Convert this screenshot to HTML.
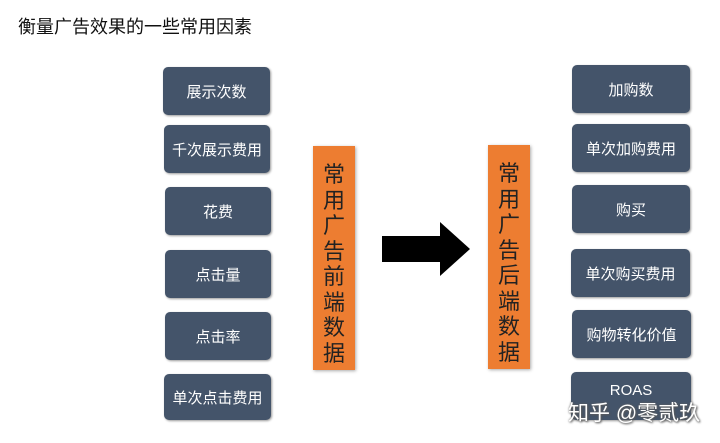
<html><head><style>
body{margin:0;width:720px;height:443px;background:#fff;position:relative;font-family:"Liberation Sans","Noto Sans CJK SC",sans-serif;overflow:hidden}
.b{position:absolute;background:#44546a;color:#fff;border-radius:5px;display:flex;align-items:center;justify-content:center;font-size:15px;box-shadow:1px 1px 2px #999}
.o{position:absolute;background:#ed7d31;color:#222;font-size:22px;line-height:25.5px;text-align:center;padding-top:16px;box-sizing:border-box;box-shadow:1px 1px 3px #aaa;overflow:hidden}
</style></head><body>
<div style="position:absolute;left:18px;top:13px;font-size:18px;color:#111">衡量广告效果的一些常用因素</div>
<div class="b" style="left:163px;top:67px;width:107px;height:48px">展示次数</div>
<div class="b" style="left:164px;top:125px;width:106px;height:48px">千次展示费用</div>
<div class="b" style="left:165px;top:187px;width:106px;height:48px">花费</div>
<div class="b" style="left:165px;top:250px;width:106px;height:48px">点击量</div>
<div class="b" style="left:165px;top:312px;width:106px;height:48px">点击率</div>
<div class="b" style="left:164px;top:374px;width:107px;height:46px">单次点击费用</div>
<div class="o" style="left:313px;top:146px;width:42px;height:224px">常<br>用<br>广<br>告<br>前<br>端<br>数<br>据</div>
<svg style="position:absolute;left:380px;top:220px" width="95" height="60"><polygon points="2,16 60,16 60,2 90,29 60,56 60,42 2,42" fill="#000"/></svg>
<div class="o" style="left:488px;top:145px;width:42px;height:224px">常<br>用<br>广<br>告<br>后<br>端<br>数<br>据</div>
<div class="b" style="left:572px;top:65px;width:118px;height:48px">加购数</div>
<div class="b" style="left:572px;top:124px;width:118px;height:48px">单次加购费用</div>
<div class="b" style="left:572px;top:185px;width:118px;height:48px">购买</div>
<div class="b" style="left:571px;top:249px;width:119px;height:48px">单次购买费用</div>
<div class="b" style="left:572px;top:310px;width:119px;height:48px">购物转化价值</div>
<div class="b" style="left:571px;top:372px;width:120px;height:48px;align-items:flex-start;padding-top:10px;box-sizing:border-box">ROAS</div>
<div style="position:absolute;left:568px;top:397px;font-size:21px;color:#fff;text-shadow:0 0 2px #666,1px 1px 2px #555">知乎 @零贰玖</div>
</body></html>
